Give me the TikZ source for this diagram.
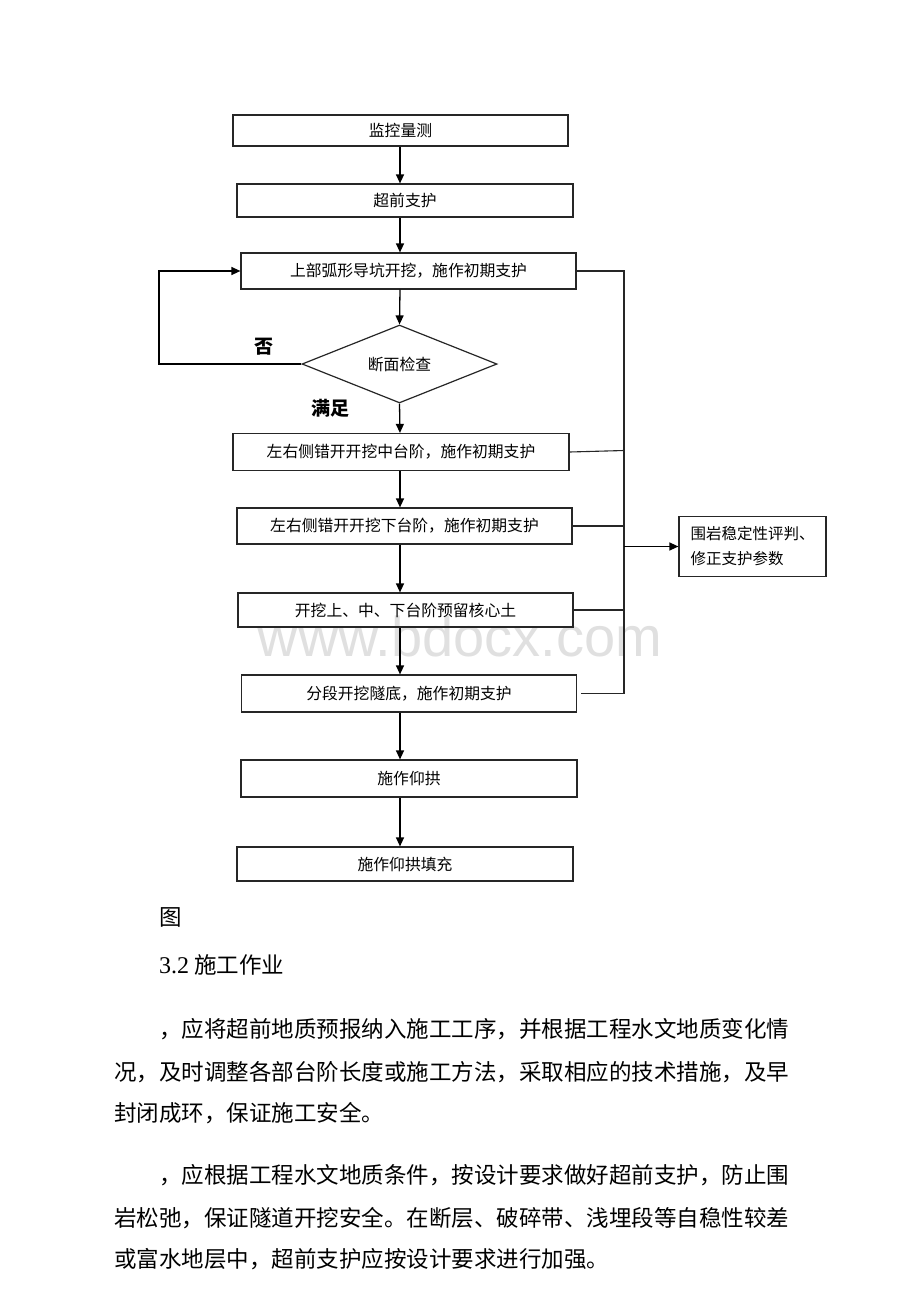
\documentclass[tikz,border=0pt]{standalone}
\usepackage{fontspec}
\setmainfont{Liberation Serif}
\newfontfamily\cjk{Noto Sans CJK SC}
\newfontfamily\wmfont{Liberation Sans}
\usetikzlibrary{arrows.meta,shapes.geometric}
\tikzset{
  flowbox/.style={draw=black!85,line width=1.2pt,inner sep=0pt,minimum width=335pt,font=\cjk\fontsize{15.8}{18}\selectfont},
  decide/.style={draw=black!85,line width=1.2pt,diamond,inner sep=0pt,minimum width=195pt,minimum height=72pt,font=\cjk\fontsize{15.8}{18}\selectfont},
  arr/.style={line width=1.3pt,-{Triangle[length=9pt,width=8pt]}},
  link/.style={line width=1.1pt,draw=black!85},
  lbl/.style={font=\cjk\bfseries\fontsize{19}{22}\selectfont,inner sep=0pt},
  para/.style={anchor=west,inner sep=0pt,font=\cjk\fontsize{22.5}{26}\selectfont},
}
\begin{document}
\begin{tikzpicture}[x=1pt,y=-1pt]
\useasboundingbox (0,0) rectangle (920,1302);
\fill[white] (0,0) rectangle (920,1302);
% watermark
\node[inner sep=0pt,text=black!12,font=\wmfont\fontsize{56}{60}\selectfont] (wm) at (460,636) {www.bdocx.com};
% flow boxes
\node[flowbox,minimum height=31pt] (b1) at (400.5,130.5) {监控量测};
\node[flowbox,minimum height=33pt,minimum width=336pt] (b2) at (405,200.5) {超前支护};
\node[flowbox,minimum height=36pt] (b3) at (408.5,271) {上部弧形导坑开挖，施作初期支护};
\node[decide] (d) at (399.5,364) {断面检查};
\node[flowbox,minimum height=37pt,minimum width=336pt] (b4) at (401,452) {左右侧错开开挖中台阶，施作初期支护};
\node[flowbox,minimum height=36pt] (b5) at (404.5,526) {左右侧错开开挖下台阶，施作初期支护};
\node[flowbox,minimum height=34pt] (b6) at (405.5,610) {开挖上、中、下台阶预留核心土};
\node[flowbox,minimum height=37pt] (b7) at (409,693.5) {分段开挖隧底，施作初期支护};
\node[flowbox,minimum height=37pt,minimum width=336pt] (b8) at (409,778.5) {施作仰拱};
\node[flowbox,minimum height=34pt,minimum width=336pt] (b9) at (405,864) {施作仰拱填充};
\node[draw=black!85,line width=1.2pt,inner sep=0pt,minimum width=147pt,minimum height=60pt,align=left,font=\cjk\fontsize{15.5}{25}\selectfont] (rb) at (752.5,546.5) {围岩稳定性评判、\\修正支护参数};
% labels
\node[lbl] (no) at (264,347) {否};
\node[lbl] (yes) at (330,408) {满足};
% main vertical arrows
\coordinate (X) at (400,0);
\draw[arr] (b1.south -| X) -- (b2.north -| X);
\draw[arr] (b2.south -| X) -- (b3.north -| X);
\draw[arr] (b3.south -| X) -- (d.north);
\draw[arr] (d.south) -- (b4.north -| X);
\draw[arr] (b4.south -| X) -- (b5.north -| X);
\draw[arr] (b5.south -| X) -- (b6.north -| X);
\draw[arr] (b6.south -| X) -- (b7.north -| X);
\draw[arr] (b7.south -| X) -- (b8.north -| X);
\draw[arr] (b8.south -| X) -- (b9.north -| X);
% feedback loop
\coordinate (L) at (159,0);
\draw[arr] (d.west) -- (d.west -| L) -- (b3.west -| L) -- (b3.west);
% right collector
\coordinate (R) at (624,0);
\draw[link] (b3.east) -- (b3.east -| R) -- (b7.east -| R) -- ([xshift=4pt]b7.east);
\draw[link] (b4.east) -- ([yshift=1.5pt]b4.east -| R);
\draw[link] (b5.east) -- (b5.east -| R);
\draw[link] (b6.east) -- (b6.east -| R);
\draw[arr] (rb.west -| R) -- (rb.west);
% text below
\node[para] (fig) at (159,917) {图};
\node[para] (sec) at (159,965) {{\rmfamily\fontsize{24}{26}\selectfont 3.2} 施工作业};
\node[para] (p1a) at (159,1029) {，应将超前地质预报纳入施工工序，并根据工程水文地质变化情};
\node[para] (p1b) at (114,1072) {况，及时调整各部台阶长度或施工方法，采取相应的技术措施，及早};
\node[para] (p1c) at (114,1113) {封闭成环，保证施工安全。};
\node[para] (p2a) at (159,1175) {，应根据工程水文地质条件，按设计要求做好超前支护，防止围};
\node[para] (p2b) at (114,1218) {岩松弛，保证隧道开挖安全。在断层、破碎带、浅埋段等自稳性较差};
\node[para] (p2c) at (114,1259) {或富水地层中，超前支护应按设计要求进行加强。};
\end{tikzpicture}
\end{document}
